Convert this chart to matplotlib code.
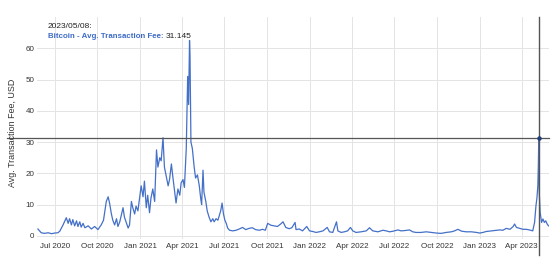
import matplotlib
matplotlib.use("Agg")
import matplotlib.pyplot as plt
import pandas as pd

plt.rcParams['font.family'] = ['Liberation Sans', 'DejaVu Sans']

dates = [
    "2020-05-26", "2020-06-02", "2020-06-09", "2020-06-17", "2020-06-24", "2020-07-01",
    "2020-07-08", "2020-07-12", "2020-07-19", "2020-07-26", "2020-07-30", "2020-08-02",
    "2020-08-06", "2020-08-09", "2020-08-13", "2020-08-17", "2020-08-20", "2020-08-24",
    "2020-08-27", "2020-08-31", "2020-09-04", "2020-09-11", "2020-09-18", "2020-09-25",
    "2020-10-02", "2020-10-09", "2020-10-14", "2020-10-20", "2020-10-24", "2020-10-27",
    "2020-10-31", "2020-11-03", "2020-11-07", "2020-11-11", "2020-11-14", "2020-11-18",
    "2020-11-25", "2020-11-28", "2020-12-06", "2020-12-09", "2020-12-13", "2020-12-16",
    "2020-12-20", "2020-12-23", "2020-12-27", "2021-01-03", "2021-01-07", "2021-01-10",
    "2021-01-14", "2021-01-17", "2021-01-21", "2021-01-24", "2021-01-28", "2021-02-01",
    "2021-02-05", "2021-02-08", "2021-02-12", "2021-02-15", "2021-02-19", "2021-02-22",
    "2021-02-26", "2021-03-02", "2021-03-05", "2021-03-09", "2021-03-12", "2021-03-16",
    "2021-03-19", "2021-03-23", "2021-03-27", "2021-03-30", "2021-04-03", "2021-04-06",
    "2021-04-10", "2021-04-13", "2021-04-15", "2021-04-17", "2021-04-18", "2021-04-20",
    "2021-04-23", "2021-04-27", "2021-04-30", "2021-05-04", "2021-05-08", "2021-05-11",
    "2021-05-13", "2021-05-16", "2021-05-18", "2021-05-22", "2021-05-25", "2021-05-29",
    "2021-06-02", "2021-06-06", "2021-06-09", "2021-06-13", "2021-06-17", "2021-06-20",
    "2021-06-23", "2021-06-26", "2021-06-29", "2021-07-02", "2021-07-05", "2021-07-08",
    "2021-07-12", "2021-07-19", "2021-07-26", "2021-08-02", "2021-08-09", "2021-08-16",
    "2021-08-23", "2021-08-30", "2021-09-06", "2021-09-14", "2021-09-21", "2021-09-27",
    "2021-10-02", "2021-10-09", "2021-10-16", "2021-10-23", "2021-10-30", "2021-11-04",
    "2021-11-10", "2021-11-17", "2021-11-23", "2021-11-30", "2021-12-02", "2021-12-09",
    "2021-12-16", "2021-12-25", "2021-12-31", "2022-01-07", "2022-01-14", "2022-01-21",
    "2022-01-29", "2022-02-07", "2022-02-12", "2022-02-19", "2022-02-27", "2022-03-02",
    "2022-03-09", "2022-03-16", "2022-03-23", "2022-03-29", "2022-04-03", "2022-04-10",
    "2022-04-21", "2022-05-02", "2022-05-09", "2022-05-16", "2022-05-27", "2022-06-07",
    "2022-06-14", "2022-06-21", "2022-06-29", "2022-07-09", "2022-07-16", "2022-07-24",
    "2022-08-03", "2022-08-10", "2022-08-17", "2022-08-28", "2022-09-08", "2022-09-19",
    "2022-09-30", "2022-10-10", "2022-10-21", "2022-11-01", "2022-11-08", "2022-11-15",
    "2022-11-23", "2022-12-03", "2022-12-14", "2022-12-25", "2023-01-01", "2023-01-08",
    "2023-01-15", "2023-01-26", "2023-02-06", "2023-02-13", "2023-02-20", "2023-02-27",
    "2023-03-07", "2023-03-14", "2023-03-17", "2023-03-21", "2023-03-28", "2023-04-04",
    "2023-04-11", "2023-04-18", "2023-04-25", "2023-04-29", "2023-05-02", "2023-05-04",
    "2023-05-06", "2023-05-07", "2023-05-08", "2023-05-09", "2023-05-11", "2023-05-14",
    "2023-05-17", "2023-05-20", "2023-05-23", "2023-05-26", "2023-05-29",
]
fees = [
    2.2, 1.0, 0.8, 1.0, 0.7, 0.9,
    1.0, 1.5, 3.5, 5.8, 4.0, 5.5,
    3.5, 5.2, 3.2, 4.8, 3.0, 4.5,
    2.8, 4.0, 2.6, 3.2, 2.2, 3.0,
    2.0, 3.5, 5.0, 11.0, 12.5, 10.5,
    7.0, 5.0, 3.5, 5.5, 3.0, 4.5,
    9.0, 6.0, 2.5, 3.5, 11.0, 9.0,
    7.0, 9.5, 8.0, 16.0, 12.5, 17.5,
    9.0, 13.0, 7.4, 12.0, 15.0, 11.0,
    27.5, 22.0, 25.0, 24.0, 31.4, 22.0,
    19.0, 16.0, 18.0, 23.0, 19.0, 14.0,
    10.5, 15.0, 13.0, 17.0, 18.0, 15.5,
    28.0, 51.0, 42.0, 62.5, 58.0, 30.0,
    28.0, 22.0, 18.5, 19.5, 16.0, 12.0,
    10.0, 21.0, 14.0, 11.0, 8.0, 6.0,
    4.5, 5.5, 4.5, 5.5, 5.0, 6.5,
    8.0, 10.5, 7.0, 5.0, 4.0, 2.5,
    1.8, 1.6, 1.8, 2.2, 2.7, 2.0,
    2.4, 2.6, 2.0, 1.8, 2.1, 1.8,
    4.0, 3.4, 3.2, 3.0, 3.8, 4.5,
    2.7, 2.3, 2.6, 4.3, 2.0, 2.2,
    1.6, 3.0, 1.6, 1.4, 1.1, 1.3,
    1.6, 2.7, 1.3, 1.1, 4.5, 1.6,
    1.1, 1.3, 1.6, 2.7, 1.6, 1.1,
    1.3, 1.6, 2.6, 1.6, 1.3, 1.8,
    1.6, 1.3, 1.5, 1.9, 1.6, 1.7,
    1.9, 1.3, 1.1, 1.1, 1.3, 1.1,
    0.9, 0.8, 1.1, 1.3, 1.6, 2.1,
    1.5, 1.3, 1.3, 1.1, 0.9, 1.1,
    1.4, 1.6, 1.8, 1.9, 1.8, 2.4,
    2.1, 3.0, 3.8, 2.7, 2.4, 2.1,
    2.1, 1.9, 1.6, 4.3, 9.7, 12.0,
    16.0, 22.0, 31.145, 14.0, 7.5, 4.3,
    5.4, 4.3, 4.8, 3.8, 3.2,
]

ytick_vals = [0, 10, 20, 30, 40, 50, 60]
xtick_dates = ["2020-07-01", "2020-10-01", "2021-01-01", "2021-04-01", "2021-07-01",
               "2021-10-01", "2022-01-01", "2022-04-01", "2022-07-01", "2022-10-01",
               "2023-01-01", "2023-04-01"]
xtick_labels = ["Jul 2020", "Oct 2020", "Jan 2021", "Apr 2021", "Jul 2021", "Oct 2021",
                "Jan 2022", "Apr 2022", "Jul 2022", "Oct 2022", "Jan 2023", "Apr 2023"]

hover_date = "2023-05-08"
hover_value = 31.145

x = pd.to_datetime(dates)
fig = plt.figure(figsize=(5.55, 2.63), dpi=100)
ax = fig.add_axes([37/555, 1 - 239/263, 512/555, 222/263])

line_color = "#4470c8"
ax.plot(x, fees, color=line_color, lw=0.9)

ax.set_xlim(pd.Timestamp("2020-05-24"), pd.Timestamp("2023-05-30"))
ax.set_ylim(-1, 70)
ax.set_yticks(ytick_vals)
ax.set_xticks(pd.to_datetime(xtick_dates))
ax.set_xticklabels(xtick_labels)
ax.tick_params(axis="both", length=0, labelsize=5.8, colors="#333333")
ax.tick_params(axis="y", pad=2)
ax.tick_params(axis="x", pad=3)
for s in ax.spines.values():
    s.set_visible(False)
ax.grid(True, color="#e4e4e4", lw=0.7)
ax.set_axisbelow(True)

# crosshair
hx = pd.Timestamp(hover_date)
ax.plot([-0.059, 1.0], [hover_value, hover_value], color="#555555", lw=0.9,
        transform=ax.get_yaxis_transform(), clip_on=False)
ax.plot([hx, hx], [1.0, -0.07], color="#555555", lw=1.0,
        transform=ax.get_xaxis_transform(), clip_on=False)
ax.plot([hx], [hover_value], "o", color="#1f3f7a", ms=2.2, zorder=5)

fig.text(13/555, 1 - 133/263, "Avg. Transaction Fee, USD", rotation=90,
         ha="center", va="center", fontsize=6.4, color="#333333")

fig.text(48/555, 1 - 26/263, hover_date.replace("-", "/") + ":", ha="left", va="center",
         fontsize=6.0, color="#222222")
t1 = fig.text(48/555, 1 - 36/263, "Bitcoin - Avg. Transaction Fee:", ha="left", va="center",
              fontsize=5.7, color="#3d6bc6", fontweight="bold")
fig.canvas.draw()
bb = t1.get_window_extent()
fig.text((bb.x1 + 2) / 555, 1 - 36/263, f"{hover_value}", ha="left", va="center",
         fontsize=6.0, color="#222222")

fig.savefig("out.png", dpi=100)
